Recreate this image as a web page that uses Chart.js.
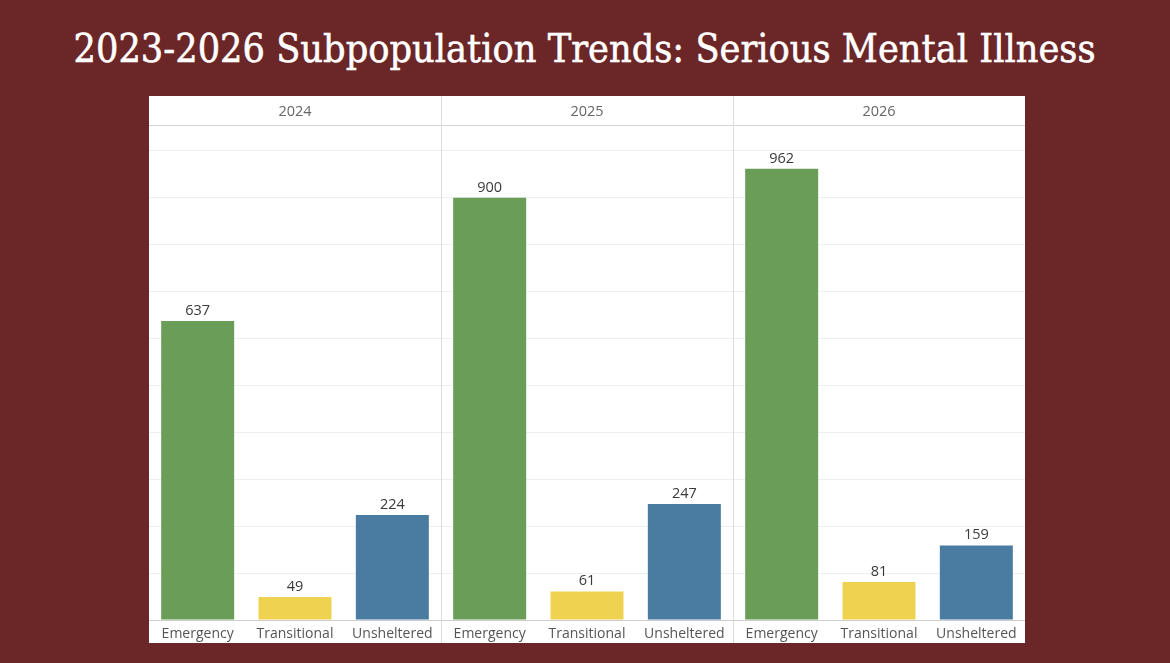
<!DOCTYPE html>
<html><head><meta charset="utf-8">
<script src="https://cdn.jsdelivr.net/npm/chart.js@4"></script>
<style>
html,body{margin:0;padding:0;background:#6b2628;width:1170px;height:663px;overflow:hidden}
#title{position:absolute;left:0;top:25px;width:1170px;text-align:center;color:#fff;font-family:'DejaVu Serif',serif;font-size:40px;line-height:normal;white-space:nowrap;-webkit-text-stroke:0.6px #fff}
#t{display:inline-block;transform-origin:center center}
#panel{position:absolute;left:149px;top:96px;width:876px;height:547px;background:#fff}
</style></head><body>
<div id="title"><span id="t">2023-2026 Subpopulation Trends: Serious Mental Illness</span></div>
<div id="panel"><canvas id="c"></canvas></div>
<script>
// ---- data ----
const years = ['2024', '2025', '2026'];
const categories = ['Emergency', 'Transitional', 'Unsheltered'];
const emergency = [637, 900, 962];
const transitional = [49, 61, 81];
const unsheltered = [224, 247, 159];
const categoryColors = ['#6a9e58', '#efd350', '#4a7ba0'];

// fit title width
const t = document.getElementById('t');
const w = t.getBoundingClientRect().width;
t.style.transform = 'scaleX(' + (1022 / w) + ')';

// build flat table: year-major order
const labels = [], values = [], colors = [];
const series = [emergency, transitional, unsheltered];
years.forEach((y, yi) => {
  categories.forEach((c, ci) => {
    labels.push(c);
    values.push(series[ci][yi]);
    colors.push(categoryColors[ci]);
  });
});

const FONT = "'Open Sans', 'Noto Sans', sans-serif";

const panelPlugin = {
  id: 'panelPlugin',
  afterDraw(chart) {
    const ctx = chart.ctx;
    const xs = chart.scales.x;
    const area = chart.chartArea;
    const H = chart.height;
    ctx.save();
    // header separator line
    ctx.strokeStyle = '#d4d4d4';
    ctx.lineWidth = 1;
    ctx.beginPath();
    ctx.moveTo(0, area.top + 0.5);
    ctx.lineTo(chart.width, area.top + 0.5);
    ctx.stroke();
    // year separators & headers
    const n = categories.length;
    years.forEach((y, yi) => {
      const first = xs.getPixelForValue(yi * n);
      const last = xs.getPixelForValue(yi * n + n - 1);
      const half = (xs.getPixelForValue(1) - xs.getPixelForValue(0)) / 2;
      const left = first - half, right = last + half;
      if (yi > 0) {
        ctx.strokeStyle = '#dcdcdc';
        ctx.beginPath();
        ctx.moveTo(Math.round(left) + 0.5, 0);
        ctx.lineTo(Math.round(left) + 0.5, H);
        ctx.stroke();
      }
      ctx.fillStyle = '#666';
      ctx.font = '14.5px ' + FONT;
      ctx.textAlign = 'center';
      ctx.textBaseline = 'middle';
      ctx.fillText(y, (left + right) / 2, area.top / 2 + 1.5);
    });
    // data labels
    const meta = chart.getDatasetMeta(0);
    ctx.fillStyle = '#3a3a3a';
    ctx.font = '14.5px ' + FONT;
    ctx.textAlign = 'center';
    ctx.textBaseline = 'alphabetic';
    meta.data.forEach((bar, i) => {
      ctx.fillText(String(chart.data.datasets[0].data[i]), bar.x, bar.y - 6);
    });
    ctx.restore();
  }
};

new Chart(document.getElementById('c'), {
  type: 'bar',
  data: {
    labels: labels,
    datasets: [{
      data: values,
      backgroundColor: colors,
      borderWidth: 0,
      barPercentage: 0.75,
      categoryPercentage: 1.0
    }]
  },
  options: {
    responsive: true,
    maintainAspectRatio: false,
    animation: false,
    devicePixelRatio: 1,
    layout: { padding: { top: 29, left: 0, right: 0, bottom: 0 } },
    plugins: { legend: { display: false }, tooltip: { enabled: false }, title: { display: false } },
    scales: {
      x: {
        grid: { display: false, drawTicks: false },
        border: { display: false },
        ticks: { color: '#555', font: { family: FONT, size: 14 }, padding: 6, maxRotation: 0, autoSkip: false },
        afterFit(scale) { scale.height = 23; }
      },
      y: {
        min: 0,
        max: 1055,
        ticks: { display: false, stepSize: 100 },
        afterBuildTicks(scale) { scale.ticks = scale.ticks.filter(tk => tk.value % 100 === 0); },
        grid: {
          drawTicks: false,
          color: ctx => (ctx.tick && ctx.tick.value === 0) ? '#cfcfcf' : '#efefef'
        },
        border: { display: false }
      }
    }
  },
  plugins: [panelPlugin]
});
</script>
</body></html>
